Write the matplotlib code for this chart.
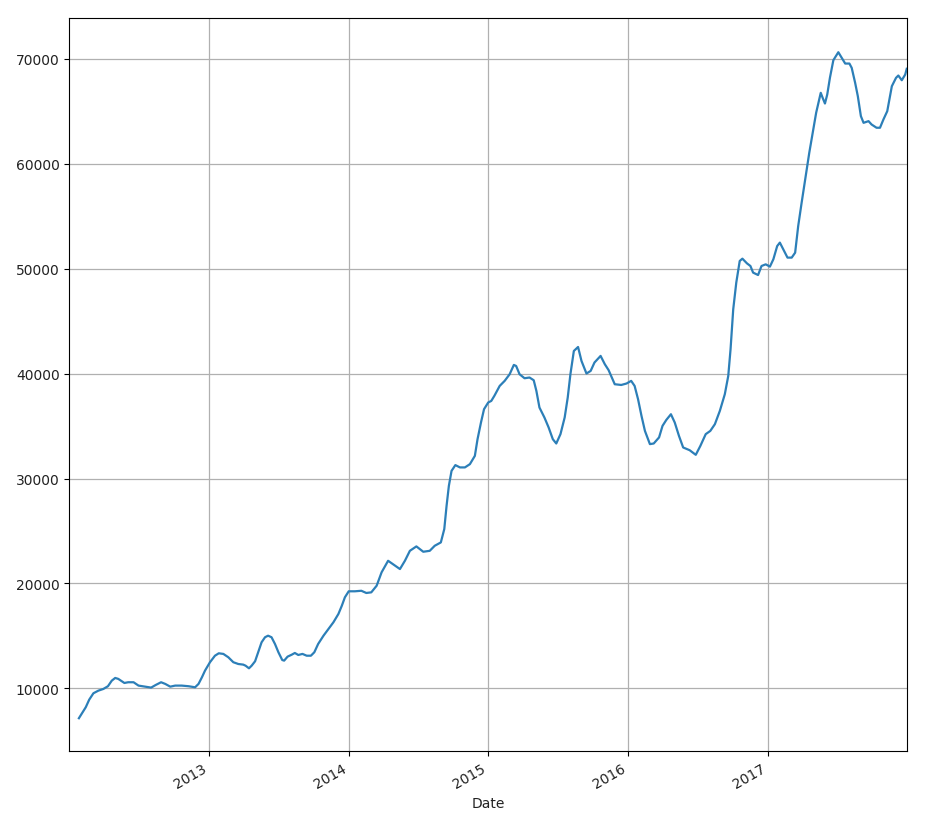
import pandas as pd
import matplotlib
matplotlib.use('Agg')
import matplotlib.pyplot as plt
import matplotlib.dates as mdates

# values
dates = [
    '2012-01-26', '2012-02-02', '2012-02-13', '2012-02-22', '2012-03-04', '2012-03-17',
    '2012-03-30', '2012-04-11', '2012-04-21', '2012-04-30', '2012-05-08', '2012-05-24',
    '2012-06-03', '2012-06-17', '2012-06-30', '2012-07-17', '2012-08-02', '2012-08-14',
    '2012-08-28', '2012-09-08', '2012-09-21', '2012-10-04', '2012-10-21', '2012-11-08',
    '2012-11-25', '2012-12-04', '2012-12-13', '2012-12-21',
    '2013-01-03', '2013-01-16', '2013-01-26', '2013-02-07', '2013-02-20', '2013-03-05',
    '2013-03-18', '2013-03-31', '2013-04-06', '2013-04-15', '2013-04-22', '2013-05-01',
    '2013-05-09', '2013-05-18', '2013-05-27', '2013-06-04', '2013-06-13', '2013-06-22',
    '2013-07-01', '2013-07-11', '2013-07-16', '2013-07-25', '2013-08-05', '2013-08-13',
    '2013-08-22', '2013-09-02', '2013-09-13', '2013-09-24', '2013-10-03', '2013-10-13',
    '2013-10-27', '2013-11-09', '2013-11-22', '2013-12-05', '2013-12-14', '2013-12-22',
    '2014-01-01', '2014-01-17', '2014-02-03', '2014-02-16', '2014-03-01', '2014-03-15',
    '2014-03-28', '2014-04-14', '2014-04-30', '2014-05-15', '2014-05-28', '2014-06-10',
    '2014-06-27', '2014-07-15', '2014-08-01', '2014-08-14', '2014-08-30', '2014-09-08',
    '2014-09-14', '2014-09-20', '2014-09-27', '2014-10-07', '2014-10-19', '2014-11-01',
    '2014-11-14', '2014-11-27', '2014-12-04', '2014-12-13', '2014-12-21',
    '2015-01-01', '2015-01-09', '2015-01-17', '2015-01-31', '2015-02-13', '2015-02-26',
    '2015-03-09', '2015-03-15', '2015-03-24', '2015-04-06', '2015-04-19', '2015-04-30',
    '2015-05-07', '2015-05-15', '2015-05-28', '2015-06-08', '2015-06-19', '2015-06-28',
    '2015-07-09', '2015-07-20', '2015-07-28', '2015-08-04', '2015-08-13', '2015-08-24',
    '2015-09-02', '2015-09-15', '2015-09-26', '2015-10-06', '2015-10-22', '2015-11-02',
    '2015-11-12', '2015-11-28', '2015-12-15', '2015-12-29',
    '2016-01-10', '2016-01-19', '2016-01-28', '2016-02-06', '2016-02-15', '2016-02-28',
    '2016-03-09', '2016-03-23', '2016-04-01', '2016-04-11', '2016-04-23', '2016-05-03',
    '2016-05-14', '2016-05-25', '2016-06-11', '2016-06-27', '2016-07-09', '2016-07-23',
    '2016-08-04', '2016-08-16', '2016-08-29', '2016-09-11', '2016-09-20', '2016-09-26',
    '2016-10-03', '2016-10-11', '2016-10-20', '2016-10-27', '2016-11-08', '2016-11-17',
    '2016-11-24', '2016-12-07', '2016-12-16', '2016-12-27',
    '2017-01-07', '2017-01-16', '2017-01-26', '2017-02-02', '2017-02-11', '2017-02-22',
    '2017-03-05', '2017-03-14', '2017-03-22', '2017-03-31', '2017-04-12', '2017-04-20',
    '2017-04-29', '2017-05-08', '2017-05-20', '2017-05-25', '2017-05-31', '2017-06-06',
    '2017-06-13', '2017-06-22', '2017-07-05', '2017-07-14', '2017-07-23', '2017-08-03',
    '2017-08-09', '2017-08-18', '2017-08-25', '2017-09-02', '2017-09-09', '2017-09-22',
    '2017-09-30', '2017-10-13', '2017-10-22', '2017-10-31', '2017-11-10', '2017-11-22',
    '2017-12-03', '2017-12-09', '2017-12-18', '2017-12-27', '2017-12-31',
]
values = [
    7150, 7560, 8200, 8920, 9530, 9780,
    9940, 10200, 10730, 10990, 10900, 10510,
    10580, 10580, 10260, 10160, 10070, 10320,
    10580, 10420, 10160, 10260, 10260, 10200,
    10100, 10420, 11060, 11690,
    12490, 13110, 13340, 13280, 12960, 12490,
    12320, 12260, 12160, 11910, 12160, 12580,
    13440, 14390, 14870, 15020, 14870, 14230,
    13440, 12700, 12640, 13020, 13210, 13370,
    13180, 13280, 13110, 13110, 13440, 14230,
    15020, 15660, 16300, 17090, 17880, 18680,
    19250, 19250, 19300, 19090, 19150, 19780,
    21060, 22160, 21750, 21370, 22160, 23110,
    23530, 23020, 23110, 23590, 23910, 25180,
    27400, 29300, 30730, 31280, 31060, 31060,
    31370, 32160, 33750, 35340, 36610,
    37250, 37400, 37880, 38830, 39310, 39940,
    40830, 40730, 39940, 39560, 39630, 39370,
    38350, 36770, 35820, 34870, 33750, 33340,
    34230, 35820, 37720, 39940, 42160, 42540,
    41210, 40010, 40260, 41060, 41690, 40900,
    40330, 38990, 38920, 39060,
    39310, 38830, 37560, 35970, 34540, 33280,
    33340, 33920, 35020, 35590, 36130, 35340,
    34070, 32960, 32700, 32260, 33110, 34230,
    34540, 35180, 36450, 38040, 39780, 42320,
    46130, 48680, 50740, 50960, 50510, 50260,
    49630, 49400, 50260, 50420,
    50200, 50900, 52160, 52490, 51850, 51060,
    51060, 51530, 54070, 56300, 59150, 61060,
    62960, 64870, 66770, 66290, 65750, 66610,
    68200, 69880, 70640, 70100, 69560, 69560,
    69150, 67720, 66450, 64550, 63910, 64070,
    63750, 63440, 63440, 64230, 65020, 67400,
    68200, 68420, 67970, 68510, 69060,
]
year_ticks = ['2013-01-01', '2014-01-01', '2015-01-01', '2016-01-01', '2017-01-01']

series = pd.Series(values, index=pd.to_datetime(dates))

fig = plt.figure(figsize=(9.32, 8.2), dpi=100)
ax = fig.add_axes([0.0744, 0.0826, 0.8985, 0.8942])

ax.plot(series.index, series.values, color='#2c7fb8', lw=1.6)

ax.set_xlim(pd.Timestamp('2012-01-01'), pd.Timestamp('2017-12-31'))
ax.set_ylim(4000, 73900)
ax.set_yticks([10000, 20000, 30000, 40000, 50000, 60000, 70000])
ax.set_xticks(pd.to_datetime(year_ticks))
ax.xaxis.set_major_formatter(mdates.DateFormatter('%Y'))
ax.tick_params(labelsize=10, labelcolor='#222222')
for lbl in ax.get_xticklabels():
    lbl.set_rotation(30)
    lbl.set_ha('right')
ax.set_xlabel('Date', fontsize=10, color='#222222')
ax.grid(True, color='#b0b0b0', lw=0.9)

fig.savefig('out.png', dpi=100)
